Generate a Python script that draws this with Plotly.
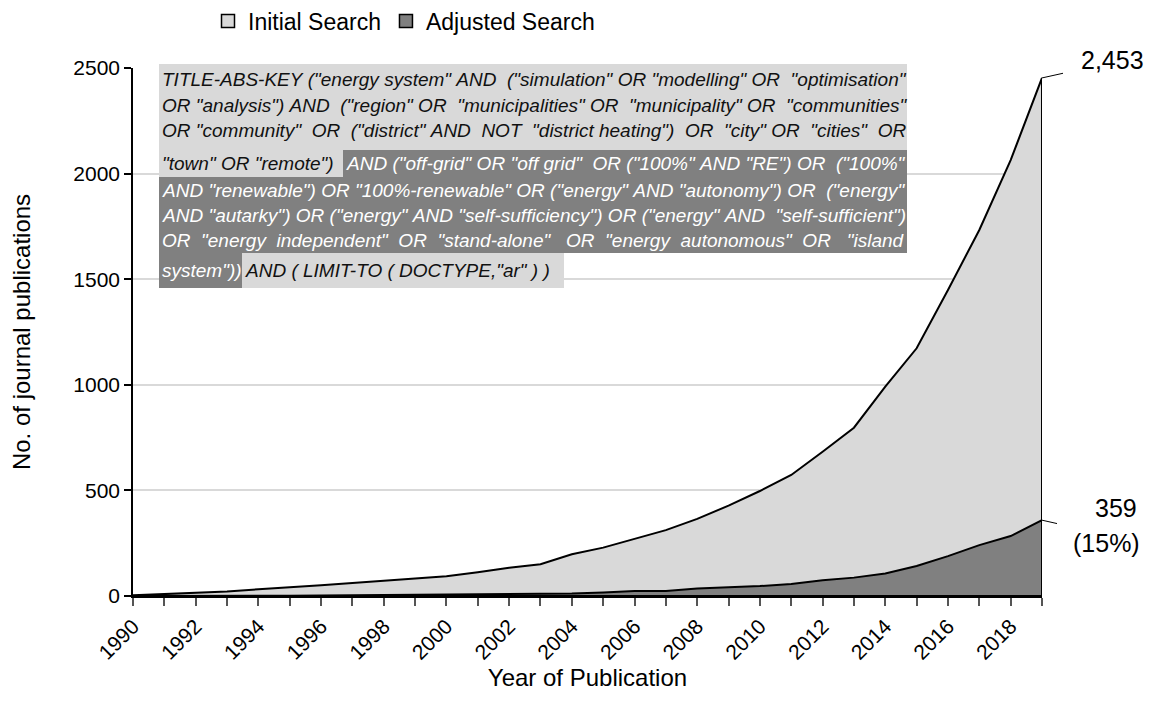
import plotly.graph_objects as go

years = list(range(1990, 2020))
initial_search = [3, 8, 13, 21, 32, 40, 51, 62, 73, 84, 93, 112, 134, 150, 198,
                  229, 270, 312, 365, 428, 497, 573, 683, 797, 991, 1173, 1449, 1733, 2064, 2453]
adjusted_search = [0, 1, 1, 1, 1, 1, 2, 2, 3, 6, 6, 6, 7, 8, 12,
                   17, 24, 24, 35, 41, 47, 57, 74, 87, 107, 142, 189, 241, 284, 359]
series_names = ["Initial Search", "Adjusted Search"]
series_colors = ["#d9d9d9", "#808080"]
y_ticks = [0, 500, 1000, 1500, 2000, 2500]
x_tick_labels = [str(y) if y % 2 == 0 else "" for y in years]

# query text: (text, highlight, justified) segments per line
query_lines = [
    [('TITLE-ABS-KEY ("energy system" AND ("simulation" OR "modelling" OR "optimisation"', "light", True)],
    [('OR "analysis") AND ("region" OR "municipalities" OR "municipality" OR "communities"', "light", True)],
    [('OR "community" OR ("district" AND NOT "district heating") OR "city" OR "cities" OR', "light", True)],
    [('"town" OR "remote")', "light", False),
     ('AND ("off-grid" OR "off grid" OR ("100%" AND "RE") OR ("100%"', "dark", True)],
    [('AND "renewable") OR "100%-renewable" OR ("energy" AND "autonomy") OR ("energy"', "dark", True)],
    [('AND "autarky") OR ("energy" AND "self-sufficiency") OR ("energy" AND "self-sufficient")', "dark", True)],
    [('OR "energy independent" OR "stand-alone" OR "energy autonomous" OR "island', "dark", True)],
    [('system"))', "dark", False), ('AND ( LIMIT-TO ( DOCTYPE,"ar" ) )', "light", False)],
]

OFF = 8  # browser body margin
W, H = 1153 - OFF, 720 - OFF
# plot area in reference-page pixels
L, R, T, B = 133, 1042, 68, 596
PW, PH = R - L, B - T


def px(x):
    return (x - L) / PW


def py(y):
    return (B - y) / PH


FONT = "Liberation Sans, Arial, sans-serif"

# Arial / Liberation Sans advance widths (per 1000 em) for text justification
_W = {' ': 278, '"': 355, '%': 889, '(': 333, ')': 333, ',': 278, '-': 333, '.': 278,
      'A': 667, 'B': 667, 'C': 722, 'D': 722, 'E': 667, 'F': 611, 'G': 778, 'H': 722, 'I': 278,
      'J': 500, 'K': 667, 'L': 556, 'M': 833, 'N': 722, 'O': 778, 'P': 667, 'Q': 778, 'R': 722,
      'S': 667, 'T': 611, 'U': 722, 'V': 667, 'W': 944, 'X': 667, 'Y': 667, 'Z': 611,
      'a': 556, 'b': 556, 'c': 500, 'd': 556, 'e': 556, 'f': 278, 'g': 556, 'h': 556, 'i': 222,
      'j': 222, 'k': 500, 'l': 222, 'm': 833, 'n': 556, 'o': 556, 'p': 556, 'q': 556, 'r': 333,
      's': 500, 't': 278, 'u': 556, 'v': 500, 'w': 722, 'x': 500, 'y': 500, 'z': 500}


def text_w(s, size):
    return sum(_W.get(c, 556) for c in s) / 1000 * size


def justify(s, target, size):
    words = s.split(" ")
    gaps = len(words) - 1
    natural = text_w(s, size)
    extra = max(0, round((target - natural) / (0.278 * size)))
    out = words[0]
    for k in range(gaps):
        n = 1 + (extra * (k + 1)) // gaps - (extra * k) // gaps
        out += "\u00a0" * n + words[k + 1]
    return out


TXT_SIZE = 19

fig = go.Figure()
for vals, name, col in zip([initial_search, adjusted_search], series_names, series_colors):
    fig.add_trace(go.Scatter(
        x=years + [years[-1], years[0]],
        y=vals + [0, 0],
        mode="lines", fill="toself", fillcolor=col,
        line=dict(color="black", width=2),
        showlegend=False, hoverinfo="skip", name=name,
    ))
for name, col in zip(series_names, series_colors):
    fig.add_trace(go.Scatter(
        x=[None], y=[None], mode="markers", name=name,
        marker=dict(symbol="square", size=13, color=col, line=dict(color="black", width=1.5)),
    ))

shapes = []
annotations = []
light_c, dark_c = "#d9d9d9", "#808080"
boxes = [
    (159, 907, 64, 150, light_c),
    (159, 343, 150, 177, light_c),
    (343, 907, 150, 177, dark_c),
    (159, 907, 177, 253, dark_c),
    (159, 242, 253, 288, dark_c),
    (242, 564, 253, 288, light_c),
]
for x0, x1, y0, y1, c in boxes:
    shapes.append(dict(type="rect", xref="paper", yref="paper", x0=px(x0), x1=px(x1),
                       y0=py(y1), y1=py(y0), fillcolor=c, line=dict(width=0), layer="above"))

line_y = [79, 105, 131, 164, 190, 215, 240, 270]
seg_x = {(3, 1): 344, (7, 1): 243}
RIGHT_EDGE = 906
for i, segs in enumerate(query_lines):
    for j, (txt, hl, just) in enumerate(segs):
        x = seg_x.get((i, j), 160)
        shown = justify(txt, RIGHT_EDGE - x - 4, TXT_SIZE) if just else txt
        annotations.append(dict(
            text="<i>" + shown + "</i>",
            xref="paper", yref="paper", x=px(x), y=py(line_y[i]),
            xanchor="left", yanchor="middle", showarrow=False,
            font=dict(family=FONT, size=TXT_SIZE, color="white" if hl == "dark" else "#111111"),
        ))

# data labels with leader lines
shapes.append(dict(type="line", xref="paper", yref="y", x0=1.0, y0=initial_search[-1],
                   x1=px(1063), y1=initial_search[-1] + 22, line=dict(color="black", width=1)))
annotations.append(dict(text=f"{initial_search[-1]:,}", xref="paper", yref="paper",
                        x=px(1112), y=py(60), xanchor="center", yanchor="middle",
                        showarrow=False, font=dict(family=FONT, size=25, color="black")))
shapes.append(dict(type="line", xref="paper", yref="y", x0=1.0, y0=adjusted_search[-1],
                   x1=px(1057), y1=adjusted_search[-1] - 16, line=dict(color="black", width=1)))
pct = round(100 * adjusted_search[-1] / initial_search[-1])
annotations.append(dict(text=f"{adjusted_search[-1]}", xref="paper", yref="paper",
                        x=px(1116), y=py(508), xanchor="center", yanchor="middle",
                        showarrow=False, font=dict(family=FONT, size=25, color="black")))
annotations.append(dict(text=f"({pct}%)", xref="paper", yref="paper",
                        x=px(1106), y=py(543), xanchor="center", yanchor="middle",
                        showarrow=False, font=dict(family=FONT, size=25, color="black")))

fig.update_layout(
    width=W, height=H,
    margin=dict(l=L - OFF, r=(1153 - R), t=T - OFF, b=(720 - B), autoexpand=False),
    paper_bgcolor="white", plot_bgcolor="white",
    font=dict(family=FONT, size=21, color="black"),
    shapes=shapes, annotations=annotations,
    legend=dict(orientation="h", xref="container", yref="container",
                x=(208 - OFF) / W, xanchor="left", y=1 - (21 - OFF) / H, yanchor="middle",
                font=dict(family=FONT, size=23, color="black"), itemwidth=30,
                bgcolor="rgba(0,0,0,0)"),
    xaxis=dict(range=[years[0], years[-1]], tickmode="array", tickvals=years, ticktext=x_tick_labels,
               tickangle=-45, ticks="outside", ticklen=8, tickcolor="#555555", tickwidth=1.5,
               showline=True, linecolor="black", linewidth=1.5, showgrid=False, zeroline=False,
               title=dict(text="Year of Publication", font=dict(family=FONT, size=24), standoff=6),
               tickfont=dict(family=FONT, size=21, color="black")),
    yaxis=dict(range=[0, 2500], tickmode="array", tickvals=y_ticks, ticks="outside", ticklen=7,
               tickcolor="black", tickwidth=1.5, showline=True, linecolor="black", linewidth=1.5,
               showgrid=True, gridcolor="#d9d9d9", gridwidth=1.5, zeroline=False,
               title=dict(text="No. of journal publications", font=dict(family=FONT, size=24), standoff=36),
               tickfont=dict(family=FONT, size=21, color="black")),
)

fig.write_html("out.html")
